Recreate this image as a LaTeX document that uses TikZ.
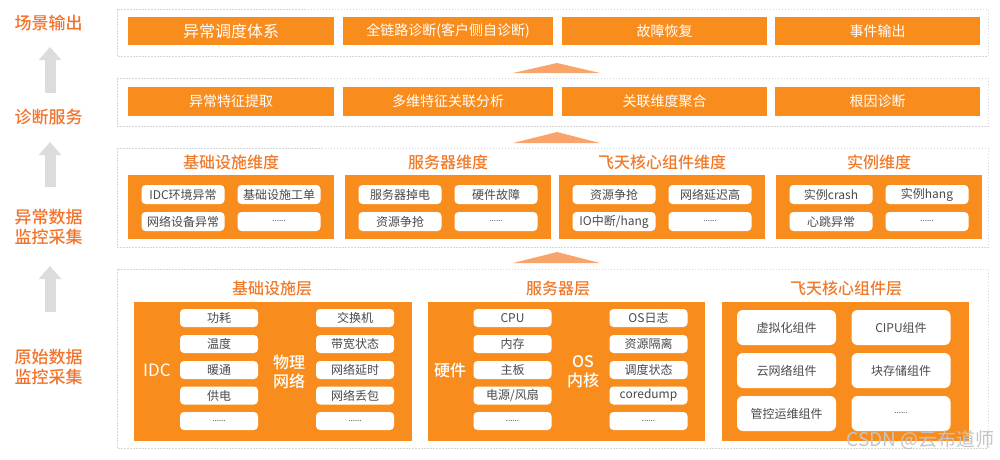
\documentclass[tikz,border=0pt]{standalone}
\usepackage{fontspec}
\setmainfont{Noto Sans CJK SC}[BoldFont={Noto Sans CJK SC Medium}]
\usetikzlibrary{arrows.meta}
\definecolor{boxor}{HTML}{F88D1E}
\definecolor{trior}{HTML}{F9A46B}
\definecolor{sideor}{HTML}{F2722A}
\definecolor{titor}{HTML}{F07A2A}
\definecolor{pilltxt}{HTML}{4A4A4A}
\definecolor{dashgr}{HTML}{D6D6D6}
\definecolor{arrgr}{HTML}{DCDCDC}
\definecolor{wmark}{HTML}{C4C4C4}
\begin{document}
\begin{tikzpicture}[x=1pt,y=-1pt,
  container/.style={draw=dashgr, dash pattern=on 1.5pt off 1.5pt, line width=0.6pt},
  obox/.style={fill=boxor, draw=none, inner sep=0pt, text=white, font=\fontsize{14}{14}\selectfont},
  pillA/.style={fill=white, rounded corners=4pt, inner sep=0pt, text=pilltxt, font=\fontsize{12}{12}\selectfont},
  pillB/.style={fill=white, rounded corners=6pt, inner sep=0pt, text=pilltxt, font=\fontsize{12}{12}\selectfont, minimum width=99pt, minimum height=35pt},
  dimpill/.style={pillA, minimum width=83pt, minimum height=19pt},
  layerpill/.style={pillA, minimum width=78pt, minimum height=18pt},
  dots/.style={font=\fontsize{8}{8}\selectfont},
  titl/.style={text=titor, font=\fontsize{16}{16}\selectfont\bfseries},
  side/.style={text=sideor, font=\fontsize{17}{20}\selectfont\bfseries, align=center},
  inlab/.style={text=white, font=\fontsize{16}{19}\selectfont\bfseries, align=center},
  grayarrow/.style={draw=arrgr, line width=11pt, -{Triangle[width=22pt,length=13pt]}},
  tri/.style={fill=trior, draw=none}
]
\useasboundingbox (0,0) rectangle (1000,459);

% ---------- left side labels ----------
\node[side] (s1) at (48.5,23) {场景输出};
\node[side] (s2) at (48.5,117) {诊断服务};
\node[side] (s3) at (48.5,227) {异常数据\\监控采集};
\node[side] (s4) at (48.5,367) {原始数据\\监控采集};
\coordinate (a1s) at (50,93);  \coordinate (a1e) at (50,47);
\coordinate (a2s) at (50,187); \coordinate (a2e) at (50,142);
\coordinate (a3s) at (50,312); \coordinate (a3e) at (50,266);
\draw[grayarrow] (a1s) -- (a1e);
\draw[grayarrow] (a2s) -- (a2e);
\draw[grayarrow] (a3s) -- (a3e);

% ---------- containers ----------
\draw[container] (117,9) rectangle (988,56);
\draw[container] (117,78) rectangle (988,126);
\draw[container] (117,148) rectangle (988,247);
\draw[container] (117,269) rectangle (988,448);

% ---------- triangles ----------
\fill[tri] (557,63) -- (600,73) -- (513,73) -- cycle;
\fill[tri] (557,132) -- (600,143) -- (513,143) -- cycle;
\fill[tri] (557,252) -- (600,263) -- (513,263) -- cycle;

% ---------- row 1 ----------
\node[obox, minimum width=206pt, minimum height=28pt, font=\fontsize{16}{16}\selectfont] (r1a) at (231,31) {异常调度体系};
\node[obox, minimum width=210pt, minimum height=28pt] (r1b) at (448,31) {全链路诊断(客户侧自诊断)};
\node[obox, minimum width=205pt, minimum height=28pt] (r1c) at (664.5,31) {故障恢复};
\node[obox, minimum width=205pt, minimum height=28pt] (r1d) at (877.5,31) {事件输出};

% ---------- row 2 ----------
\node[obox, minimum width=206pt, minimum height=29pt] (r2a) at (231,101.5) {异常特征提取};
\node[obox, minimum width=210pt, minimum height=29pt] (r2b) at (448,101.5) {多维特征关联分析};
\node[obox, minimum width=205pt, minimum height=29pt] (r2c) at (664.5,101.5) {关联维度聚合};
\node[obox, minimum width=205pt, minimum height=29pt] (r2d) at (877.5,101.5) {根因诊断};

% ---------- row 3 ----------
\foreach \cx/\nm/\tt/\pa/\pb/\pc in {
  231/d1/基础设施维度/IDC环境异常/基础设施工单/网络设备异常,
  448/d2/服务器维度/服务器掉电/硬件故障/资源争抢,
  662/d3/飞天核心组件维度/资源争抢/网络延迟高/IO中断\slash hang,
  879/d4/实例维度/实例crash/实例hang/心跳异常} {
  \node[titl] (\nm t) at (\cx,162) {\tt};
  \node[obox, minimum width=206pt, minimum height=64pt] (\nm) at (\cx,207) {};
  \node[dimpill] (\nm a) at (\cx-48,194.5) {\pa};
  \node[dimpill] (\nm b) at (\cx+48,194.5) {\pb};
  \node[dimpill] (\nm c) at (\cx-48,221.5) {\pc};
  \node[dimpill] (\nm d) at (\cx+48,221.5) {};
  \node[dots, text=pilltxt] at (\nm d) {......};
}

% ---------- row 4 ----------
\node[titl] (l1t) at (272,288) {基础设施层};
\node[titl] (l2t) at (558,288) {服务器层};
\node[titl] (l3t) at (846,288) {飞天核心组件层};
\node[obox, minimum width=278pt, minimum height=139pt] (l1) at (273,371.5) {};
\node[obox, minimum width=277pt, minimum height=139pt] (l2) at (566.5,371.5) {};
\node[obox, minimum width=247pt, minimum height=139pt] (l3) at (845.5,371.5) {};

\node[inlab, font=\fontsize{17}{19}\selectfont] (idc) at (157,370) {IDC};
\node[inlab] (wl) at (289,372) {物理\\网络};
\node[inlab] (yj) at (450,370) {硬件};
\node[inlab] (os) at (583,372) {OS\\内核};

\foreach \y/\i/\ta/\tb/\tc/\td in {
  318/1/功耗/交换机/CPU/OS日志,
  344/2/温度/带宽状态/内存/资源隔离,
  370/3/暖通/网络延时/主板/调度状态,
  395.5/4/供电/网络丢包/电源\slash 风扇/coredump} {
  \node[layerpill] (pa\i) at (219,\y) {\ta};
  \node[layerpill] (pb\i) at (355,\y) {\tb};
  \node[layerpill] (pc\i) at (512.5,\y) {\tc};
  \node[layerpill] (pd\i) at (648.5,\y) {\td};
}
\node[layerpill] (pa5) at (219,421) {}; \node[dots, text=pilltxt] at (pa5) {......};
\node[layerpill] (pb5) at (355,421) {}; \node[dots, text=pilltxt] at (pb5) {......};
\node[layerpill] (pc5) at (512.5,421) {}; \node[dots, text=pilltxt] at (pc5) {......};
\node[layerpill] (pd5) at (648.5,421) {}; \node[dots, text=pilltxt] at (pd5) {......};

\node[pillB] (fa) at (786.5,327.5) {虚拟化组件};
\node[pillB] (fb) at (901,327.5) {CIPU组件};
\node[pillB] (fc) at (786.5,370.5) {云网络组件};
\node[pillB] (fd) at (901,370.5) {块存储组件};
\node[pillB] (fe) at (786.5,413.5) {管控运维组件};
\node[pillB] (ff) at (901,413.5) {};
\node[dots, text=pilltxt] at (ff) {......};

% ---------- watermark ----------
\node[text=wmark, font=\fontsize{19}{19}\selectfont, anchor=east] (wm) at (998,440) {CSDN @云布道师};
\end{tikzpicture}
\end{document}
